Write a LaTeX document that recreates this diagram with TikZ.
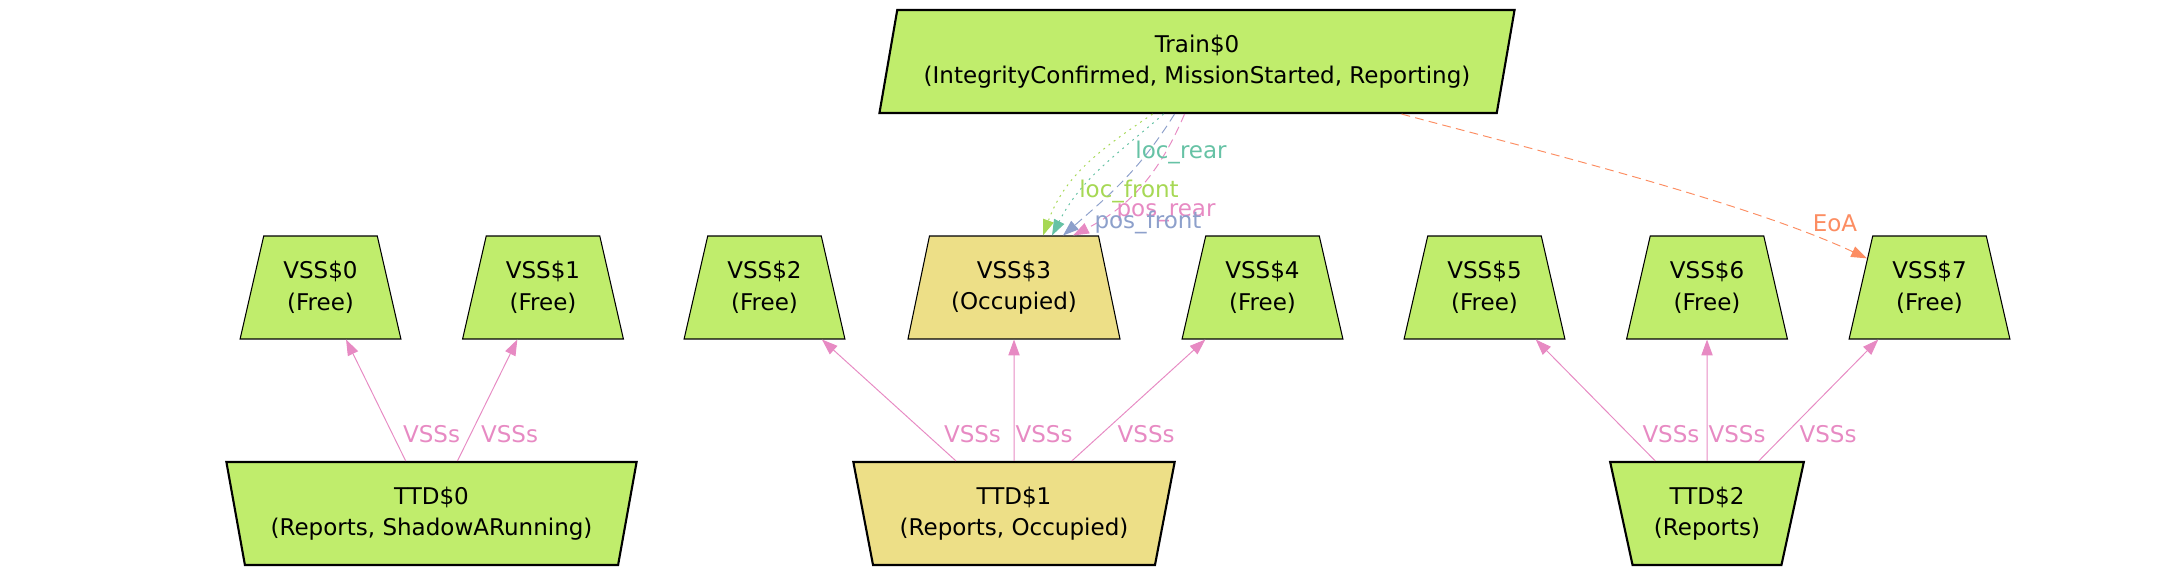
\documentclass[tikz,border=0pt]{standalone}
\usepackage{fontspec}
\setmainfont{DejaVu Sans}
\usetikzlibrary{arrows.meta,calc,shapes.geometric}
\definecolor{freegreen}{RGB}{192,237,108}
\definecolor{occyellow}{RGB}{237,223,135}
\definecolor{sttwoteal}{HTML}{66C2A5}
\definecolor{sttwoorange}{HTML}{FC8D62}
\definecolor{sttwoblue}{HTML}{8DA0CB}
\definecolor{sttwopink}{HTML}{E78AC3}
\definecolor{sttwogreen}{HTML}{A6D854}

\begin{document}
\begin{tikzpicture}[
      x=0.02cm, y=-0.02cm,
      every node/.style={font=\fontsize{13.1}{18}\selectfont},
      shp/.style={draw, trapezium, trapezium stretches=true, minimum height=2.06cm, align=center, inner sep=0pt, fill=freegreen},
      vss/.style={shp, trapezium left angle=73.5, trapezium right angle=73.5, minimum width=3.22cm, line width=0.6pt},
      ttd/.style={shp, trapezium left angle=106.5, trapezium right angle=106.5, line width=1.2pt},
      train/.style={shp, trapezium left angle=73.25, trapezium right angle=106.75, minimum width=12.76cm, line width=1.2pt},
      occ/.style={fill=occyellow},
      arr/.style={-{Triangle[length=9pt,width=6.4pt]}, line width=0.55pt},
      vssarr/.style={arr, sttwopink},
      lbl/.style={pos=0.22, inner sep=0pt},
      dots/.style={dash pattern=on 1.1pt off 2.6pt},
      dashes/.style={dash pattern=on 5pt off 3pt}
    ]
    \useasboundingbox (0,0) rectangle (2174,575);

    \node[train] (train) at (1197,61.5) {Train\$0\\(IntegrityConfirmed, MissionStarted, Reporting)};

    \node[vss] (vss0) at (320.5,287.5) {VSS\$0\\(Free)};
    \node[vss] (vss1) at (543,287.5) {VSS\$1\\(Free)};
    \node[vss] (vss2) at (764.5,287.5) {VSS\$2\\(Free)};
    \node[vss,occ,minimum width=4.26cm] (vss3) at (1014,287.5) {VSS\$3\\(Occupied)};
    \node[vss] (vss4) at (1262.5,287.5) {VSS\$4\\(Free)};
    \node[vss] (vss5) at (1484.5,287.5) {VSS\$5\\(Free)};
    \node[vss] (vss6) at (1707,287.5) {VSS\$6\\(Free)};
    \node[vss] (vss7) at (1929.5,287.5) {VSS\$7\\(Free)};

    \node[ttd,minimum width=8.22cm] (ttd0) at (431.5,513.5) {TTD\$0\\(Reports, ShadowARunning)};
    \node[ttd,occ,minimum width=6.44cm] (ttd1) at (1014,513.5) {TTD\$1\\(Reports, Occupied)};
    \node[ttd,minimum width=3.88cm] (ttd2) at (1707,513.5) {TTD\$2\\(Reports)};

    \draw[vssarr] (ttd0) -- node[lbl,xshift=0.78cm]{VSSs} (vss0);
    \draw[vssarr] (ttd0) -- node[lbl,xshift=0.78cm]{VSSs} (vss1);
    \draw[vssarr] (ttd1) -- node[lbl,xshift=0.92cm]{VSSs} (vss2);
    \draw[vssarr] (ttd1) -- node[lbl,xshift=0.6cm]{VSSs} (vss3);
    \draw[vssarr] (ttd1) -- node[lbl,xshift=0.9cm]{VSSs} (vss4);
    \draw[vssarr] (ttd2) -- node[lbl,xshift=0.84cm]{VSSs} (vss5);
    \draw[vssarr] (ttd2) -- node[lbl,xshift=0.6cm]{VSSs} (vss6);
    \draw[vssarr] (ttd2) -- node[lbl,xshift=0.86cm]{VSSs} (vss7);

    \draw[arr, sttwogreen, dots] ($(train.south)+(-44.5,0)$) to[out=214,in=70] ($(vss3.north)+(29,0)$);
    \draw[arr, sttwoteal, dots] ($(train.south)+(-33.5,0)$) to[out=221,in=63] ($(vss3.north)+(38,0)$);
    \draw[arr, sttwoblue, dashes] ($(train.south)+(-22.5,0)$) to[out=238,in=41] ($(vss3.north)+(49,0)$);
    \draw[arr, sttwopink, dashes] ($(train.south)+(-12.5,0)$) to[out=247,in=27] ($(vss3.north)+(59,0)$);
    \draw[arr, sttwoorange, dashes] ($(train.south)+(204.5,0)$) to[out=-15,in=155,looseness=0.7] (vss7);

    \node[text=sttwoteal] (locrear) at (1181,152) {loc\_rear};
    \node[text=sttwogreen] (locfront) at (1129,191) {loc\_front};
    \node[text=sttwopink] (posrear) at (1166,213) {pos\_rear};
    \node[text=sttwoblue] (posfront) at (1148,222) {pos\_front};
    \node[text=sttwoorange] (eoa) at (1835,223) {EoA};
  \end{tikzpicture}
\end{document}
